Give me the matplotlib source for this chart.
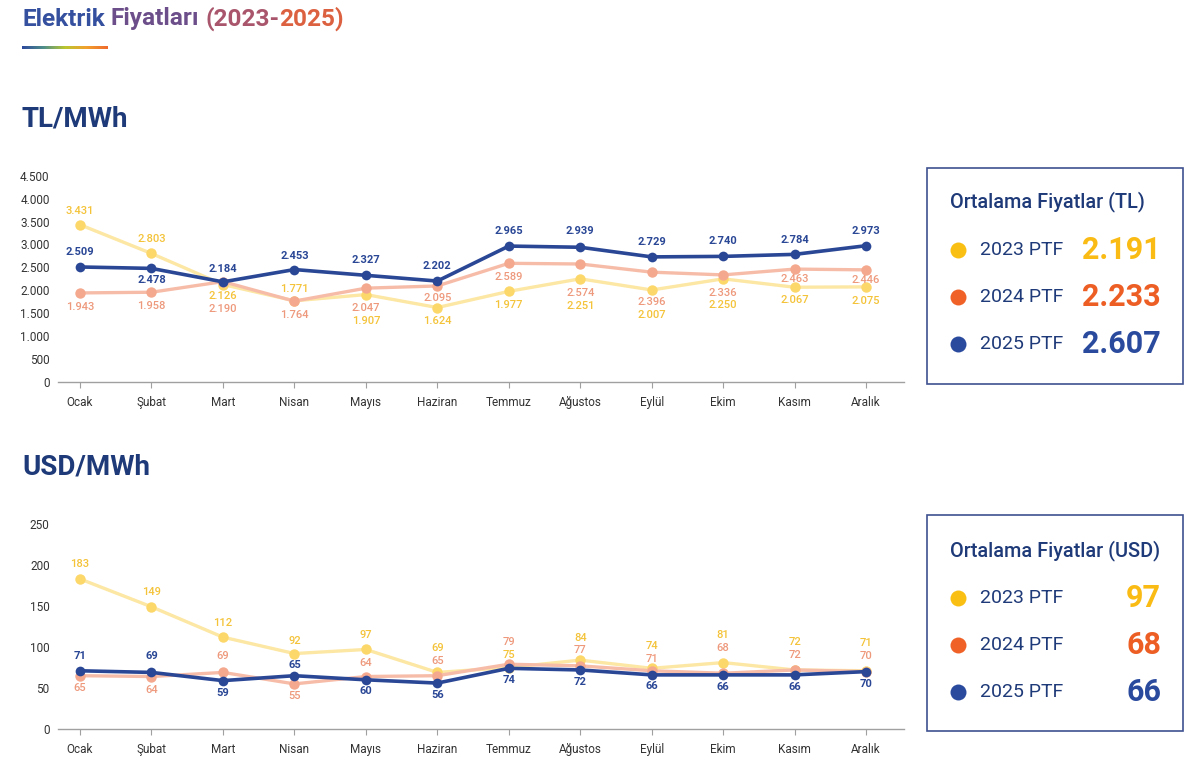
import matplotlib
matplotlib.use("Agg")
import matplotlib.pyplot as plt
from matplotlib.ticker import FuncFormatter, FixedLocator
from matplotlib.lines import Line2D
from matplotlib.patches import Rectangle
from matplotlib.colors import LinearSegmentedColormap
import numpy as np

# ---------------- data ----------------
months = ["Ocak", "Şubat", "Mart", "Nisan", "Mayıs", "Haziran", "Temmuz",
          "Ağustos", "Eylül", "Ekim", "Kasım", "Aralık"]
years = ["2023 PTF", "2024 PTF", "2025 PTF"]

tl_2023 = [3431, 2803, 2126, 1771, 1907, 1624, 1977, 2251, 2007, 2250, 2067, 2075]
tl_2024 = [1943, 1958, 2190, 1764, 2047, 2095, 2589, 2574, 2396, 2336, 2463, 2446]
tl_2025 = [2509, 2478, 2184, 2453, 2327, 2202, 2965, 2939, 2729, 2740, 2784, 2973]

usd_2023 = [183, 149, 112, 92, 97, 69, 75, 84, 74, 81, 72, 71]
usd_2024 = [65, 64, 69, 55, 64, 65, 79, 77, 71, 68, 72, 70]
usd_2025 = [71, 69, 59, 65, 60, 56, 74, 72, 66, 66, 66, 70]

tl_avg = ["2.191", "2.233", "2.607"]
usd_avg = ["97", "68", "66"]

tl_ticks = [0, 500, 1000, 1500, 2000, 2500, 3000, 3500, 4000, 4500]
usd_ticks = [0, 50, 100, 150, 200, 250]

# ---------------- label offsets (pixels, positive = downwards) ----------------
tl_off_2023 = [-14, -14, 11, -12, 26, 13, 14, 27, 25, 26, 13, 14]
tl_off_2024 = [14, 14, 27, 14, 20, 12, 14, 29, 30, 18, 10, 10]
tl_off_2025 = [-15, 12, -13, -14, -15, -15, -15, -16, -15, -15, -14, -15]
usd_off_2023 = [-15, -15, -14, -13, -14, -24, -13, -22, -22, -28, -28, -28]
usd_off_2024 = [12, 13, -16, 12, -14, -15, -22, -16, -12, -25, -15, -16]
usd_off_2025 = [-15, -16, 12, -11, 11, 12, 12, 12, 11, 12, 12, 12]

# ---------------- styles ----------------
NAVY = "#1f3a78"
line_cols = ["#fde7a4", "#f7bca8", "#2a4796"]
mark_cols = ["#fcd76a", "#f4a98f", "#2a4796"]
lab_cols = ["#f4c339", "#ee997c", "#2a4796"]
dot_cols = ["#f9bf12", "#ef6127", "#2a4a9e"]
val_cols = ["#f9bb14", "#ec5e24", "#2a4a9e"]
FONT = ["Roboto", "DejaVu Sans"]

plt.rcParams["font.family"] = FONT

W, H = 1200, 769
fig = plt.figure(figsize=(W / 100, H / 100), dpi=100)
fig.patch.set_facecolor("white")


def fx(x):
    return x / W


def fy(y):
    return 1 - y / H


def thousands(v, pos=None):
    return f"{int(v):,}".replace(",", ".")


def make_axes(top_px, bottom_px, ticks, series, offsets, fmt):
    ax = fig.add_axes([fx(58), fy(bottom_px), fx(904) - fx(58), fy(top_px) - fy(bottom_px)])
    x = np.arange(len(months))
    zs = [2, 3, 4]
    for i, (vals, offs) in enumerate(zip(series, offsets)):
        ax.plot(x, vals, color=line_cols[i], lw=2.4 if i < 2 else 2.6, zorder=zs[i],
                solid_capstyle="round")
        ax.plot(x, vals, "o", color=mark_cols[i], ms=7.5 if i < 2 else 7, zorder=zs[i] + 0.1,
                markeredgewidth=0)
        for xi, v, o in zip(x, vals, offs):
            t = ax.annotate(fmt(v), (xi, v), xytext=(0, -o), textcoords="offset pixels",
                            ha="center", va="center", fontsize=8, color=lab_cols[i],
                            fontweight="bold" if i == 2 else "medium", zorder=6)
            t.set_clip_on(False)
    ax.set_xlim(-0.308, 11.53)
    ax.set_ylim(0, ticks[-1])
    ax.yaxis.set_major_locator(FixedLocator(ticks))
    ax.yaxis.set_major_formatter(FuncFormatter(thousands))
    ax.set_xticks(x)
    ax.set_xticklabels(months, va="baseline")
    for s in ["top", "right", "left"]:
        ax.spines[s].set_visible(False)
    ax.spines["bottom"].set_color("#a0a0a0")
    ax.spines["bottom"].set_linewidth(1.0)
    ax.tick_params(axis="y", length=0, pad=6, labelsize=8.5, labelcolor="#333333")
    ax.tick_params(axis="x", length=4, width=0.8, color="#a0a0a0", pad=13,
                   labelsize=8.5, labelcolor="#333333")
    ax.patch.set_alpha(0)
    return ax


make_axes(175.7, 382, tl_ticks, [tl_2023, tl_2024, tl_2025],
          [tl_off_2023, tl_off_2024, tl_off_2025], thousands)
make_axes(524, 729, usd_ticks, [usd_2023, usd_2024, usd_2025],
          [usd_off_2023, usd_off_2024, usd_off_2025], lambda v: f"{v}")

# ---------------- title with colour steps ----------------
renderer = fig.canvas.get_renderer()
words = ["Elektrik", "Fiyatları", "(2023-", "2025)"]
word_cols = ["#34509e", "#6c4f8a", "#a9566c", "#dc6140"]
xpos = 22
for k, (w, c) in enumerate(zip(words, word_cols)):
    t = fig.text(fx(xpos), fy(19), w, fontsize=17.6, fontweight="bold", color=c,
                 ha="left", va="center")
    bb = t.get_window_extent(renderer=renderer)
    gap = 6 if k < 2 else 0
    xpos = xpos + bb.width + gap

# gradient underline
gax = fig.add_axes([fx(22), fy(49.5), fx(108) - fx(22), 3 / H])
cmap = LinearSegmentedColormap.from_list("g", ["#2e4a9c", "#4f8f8a", "#b9c630", "#f2a12e", "#ef6a2c"])
gax.imshow(np.linspace(0, 1, 200)[None, :], aspect="auto", cmap=cmap)
gax.axis("off")

fig.text(fx(22), fy(119), "TL/MWh", fontsize=20, fontweight="bold", color=NAVY,
         ha="left", va="center")
fig.text(fx(22), fy(467), "USD/MWh", fontsize=20, fontweight="bold", color=NAVY,
         ha="left", va="center")


# ---------------- summary boxes ----------------
def summary_box(top, bottom, title, values, title_dy, dot_dy):
    fig.add_artist(Rectangle((fx(927), fy(bottom)), fx(1183) - fx(927), fy(top) - fy(bottom),
                             transform=fig.transFigure, facecolor="white",
                             edgecolor="#3f5290", lw=1.2))
    fig.text(fx(950), fy(top + title_dy), title, fontsize=14.3, fontweight="medium",
             color=NAVY, ha="left", va="center")
    for i in range(3):
        yy = top + dot_dy + 47 * i
        fig.add_artist(Line2D([fx(958)], [fy(yy)], marker="o", ms=11.5, color=dot_cols[i],
                              markeredgewidth=0, transform=fig.transFigure))
        fig.text(fx(980), fy(yy), years[i], fontsize=14, color=NAVY, ha="left",
                 va="center")
        fig.text(fx(1161), fy(yy), values[i], fontsize=22, fontweight="bold",
                 color=val_cols[i], ha="right", va="center")


summary_box(168, 384, "Ortalama Fiyatlar (TL)", tl_avg, 34, 82)
summary_box(515, 731, "Ortalama Fiyatlar (USD)", usd_avg, 36, 83)

fig.savefig("out.png", dpi=100, facecolor="white")
